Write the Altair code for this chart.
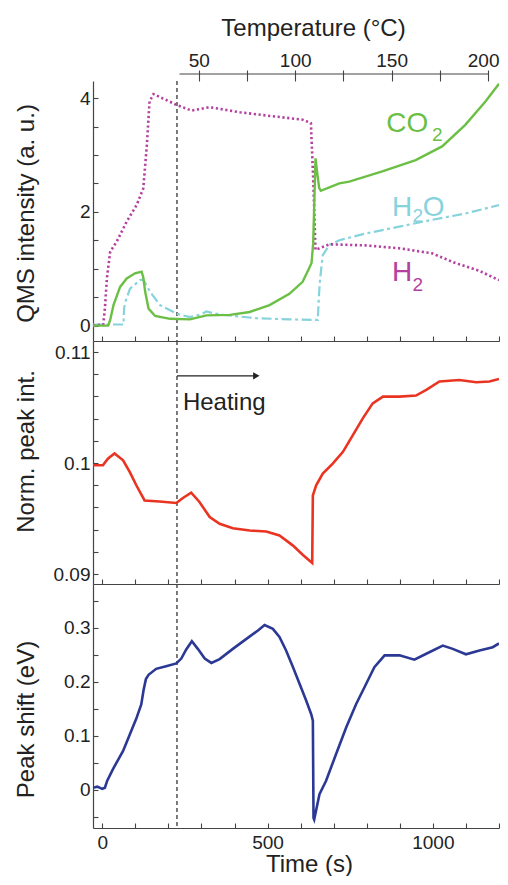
import altair as alt
import pandas as pd

# ---------------- data ----------------
# QMS signals, top panel (time in s, intensity in a.u.)
H2_T = [-28, 3, 8, 14, 24, 44, 74, 104, 124, 135, 143, 155, 225, 270, 325, 416, 516, 606, 631,
        638, 645, 657, 687, 797, 898, 998, 1068, 1138, 1200]
H2_V = [0.0, 0.02, 0.3, 0.83, 1.30, 1.48, 1.83, 2.12, 2.41, 3.18, 3.94, 4.07, 3.88, 3.78, 3.84,
        3.75, 3.68, 3.62, 3.56, 2.59, 1.33, 1.36, 1.43, 1.41, 1.36, 1.27, 1.10, 0.97, 0.80]

CO2_T = [-28, 18, 24, 34, 54, 74, 99, 119, 124, 130, 140, 160, 205, 265, 315, 386, 446, 506, 566,
         606, 625, 633, 638, 642, 645, 650, 656, 661, 717, 747, 847, 948, 1028, 1098, 1159, 1200]
CO2_V = [0.0, 0.0, 0.1, 0.36, 0.68, 0.83, 0.92, 0.95, 0.85, 0.59, 0.30, 0.17, 0.12, 0.11, 0.18,
         0.19, 0.24, 0.36, 0.56, 0.77, 1.0, 1.1, 1.45, 2.3, 2.94, 2.7, 2.42, 2.37, 2.50, 2.53,
         2.71, 2.91, 3.15, 3.53, 3.94, 4.25]

H2O_T = [-28, 64, 66, 69, 84, 114, 124, 145, 175, 225, 265, 300, 315, 335, 365, 466, 566, 652,
         655, 659, 667, 687, 717, 797, 898, 998, 1098, 1200]
H2O_V = [0.02, 0.02, 0.3, 0.40, 0.65, 0.80, 0.81, 0.59, 0.36, 0.21, 0.15, 0.20, 0.25, 0.22, 0.19,
         0.13, 0.11, 0.10, 0.5, 0.83, 1.24, 1.42, 1.50, 1.62, 1.74, 1.86, 1.97, 2.12]

# normalised peak intensity, middle panel
INT_T = [-28, 2, 17, 37, 63, 83, 103, 128, 173, 224, 244, 269, 294, 325, 355, 395, 446, 496, 536,
         577, 607, 635, 637, 647, 667, 697, 728, 758, 788, 818, 849, 899, 949, 980, 1020, 1080,
         1131, 1171, 1200]
INT_V = [0.0998, 0.0998, 0.1004, 0.10086, 0.10025, 0.0992, 0.0980, 0.09663, 0.09654, 0.0964,
         0.09685, 0.09733, 0.09649, 0.09513, 0.09452, 0.09413, 0.09392, 0.09383, 0.09347,
         0.09256, 0.09172, 0.09100, 0.09709, 0.0980, 0.09905, 0.09995, 0.10101, 0.10252,
         0.10403, 0.10538, 0.10599, 0.10599, 0.10608, 0.10659, 0.10735, 0.10749, 0.10728,
         0.10735, 0.10758]

# peak shift, bottom panel
SHIFT_T = [-28, -15, 0, 8, 15, 32, 50, 63, 83, 103, 118, 125, 132, 140, 163, 193, 224, 239, 254,
           271, 289, 310, 330, 355, 395, 435, 471, 491, 516, 536, 556, 577, 597, 617, 632, 637,
           639, 641, 657, 677, 707, 738, 768, 798, 823, 854, 899, 944, 980, 1030, 1060, 1100,
           1141, 1181, 1200]
SHIFT_V = [0.004, 0.006, 0.002, 0.004, 0.017, 0.038, 0.058, 0.072, 0.102, 0.132, 0.158, 0.185,
           0.205, 0.213, 0.224, 0.229, 0.234, 0.243, 0.260, 0.275, 0.261, 0.243, 0.235, 0.242,
           0.261, 0.279, 0.295, 0.305, 0.298, 0.283, 0.258, 0.227, 0.196, 0.165, 0.140, 0.128,
           -0.052, -0.055, -0.008, 0.017, 0.066, 0.116, 0.159, 0.196, 0.227, 0.249, 0.249, 0.241,
           0.252, 0.267, 0.261, 0.251, 0.258, 0.264, 0.271]

HEATING_START = [226]
HEATING_ARROW_T = [226, 466]
HEATING_ARROW_V = 0.10786
HEATING_TEXT = "Heating"
HEATING_TEXT_T = 244
HEATING_TEXT_V = 0.10475

GAS_LABEL_TEXT = ["CO", "2", "H", "2", "O", "H", "2"]
GAS_LABEL_GAS = ["CO2", "CO2", "H2O", "H2O", "H2O", "H2", "H2"]
GAS_LABEL_KIND = ["main", "sub", "main", "sub", "main", "main", "sub"]
GAS_LABEL_T = [859, 997, 876, 938, 969, 876, 938]
GAS_LABEL_V = [3.40, 3.25, 1.93, 1.82, 1.93, 0.79, 0.615]

TIME_DOMAIN = [-28, 1200]
TIME_TICKS = [0, 100, 200, 300, 400, 500, 600, 700, 800, 900, 1000, 1100, 1200]
TIME_LABELS = [0, 500, 1000]

TEMP_AXIS_SPAN = [40, 200]
TEMP_TICKS = [50, 75, 100, 125, 150, 175, 200]
TEMP_LABELS = [50, 100, 150, 200]

QMS_DOMAIN = [-0.27, 4.30]
QMS_TICKS = [0, 0.5, 1, 1.5, 2, 2.5, 3, 3.5, 4]
QMS_LABELS = [0, 2, 4]

INT_DOMAIN = [0.0891, 0.1110]
INT_TICKS = [0.09, 0.092, 0.094, 0.096, 0.098, 0.1, 0.102, 0.104, 0.106, 0.108, 0.11]
INT_LABELS = [0.09, 0.1, 0.11]

SHIFT_DOMAIN = [-0.0705, 0.381]
SHIFT_TICKS = [-0.05, 0, 0.05, 0.1, 0.15, 0.2, 0.25, 0.3, 0.35]
SHIFT_LABELS = [0, 0.1, 0.2, 0.3]

# ---------------- styling ----------------
FONT = "Liberation Sans"
GREEN = "#6cbf45"
CYAN = "#86d3dc"
MAGENTA = "#b4409f"
RED = "#ea3422"
BLUE = "#2b3995"
INK = "#222222"
AXIS_GREY = "#444444"

W = 406
H1, H2, H3 = 260, 243, 244
INWARD = {"expr": "-5"}

x_scale = alt.Scale(domain=TIME_DOMAIN, nice=False, zero=False)


def only(values):
    arr = "[" + ", ".join(repr(v) for v in values) + "]"
    return "indexof(" + arr + ", datum.value) >= 0 ? format(datum.value, '~g') : ''"


def time_axis(show):
    if show:
        return alt.Axis(title="Time (s)", values=TIME_TICKS,
                        labelExpr=only(TIME_LABELS), tickSize=INWARD, labelPadding=10,
                        labelOverlap=False, labelFlush=False, labelBound=False,
                        titleX=216, titleY=48, titleBaseline="bottom")
    return alt.Axis(title=None, values=TIME_TICKS, labels=False, tickSize=INWARD)


def y_axis(title, ticks, labels, title_y):
    return alt.Axis(title=title, values=ticks, labelExpr=only(labels),
                    tickSize=INWARD, labelPadding=8, labelOverlap=False, labelBound=False,
                    labelFlush=False, titleX=-60, titleY=title_y,
                    titleBaseline="alphabetic", titleAngle=270)


def series_df(t, v):
    return pd.DataFrame({"t": t, "v": v})


# one axis object per panel and channel, shared by every layer of that panel
TOP_X = time_axis(False)
MID_X = time_axis(False)
BOT_X = time_axis(True)
TOP_Y = y_axis("QMS intensity (a. u.)", QMS_TICKS, QMS_LABELS, 132)
MID_Y = y_axis("Norm. peak int.", INT_TICKS, INT_LABELS, 110)
BOT_Y = y_axis("Peak shift (eV)", SHIFT_TICKS, SHIFT_LABELS, 135)


def vline(x_axis):
    return alt.Chart(pd.DataFrame({"t": HEATING_START})).mark_rule(
        color=AXIS_GREY, strokeDash=[4, 3], strokeWidth=1.4
    ).encode(x=alt.X("t:Q", scale=x_scale, axis=x_axis))


# ---------------- top panel ----------------
qms_y = alt.Scale(domain=QMS_DOMAIN, nice=False, zero=False)


def qms_line(t, v, color, dash, width):
    kw = dict(color=color, strokeWidth=width, clip=True)
    if dash:
        kw["strokeDash"] = dash
    return alt.Chart(series_df(t, v)).mark_line(**kw).encode(
        x=alt.X("t:Q", scale=x_scale, axis=TOP_X),
        y=alt.Y("v:Q", scale=qms_y, axis=TOP_Y),
    )


labels_df = pd.DataFrame({"text": GAS_LABEL_TEXT, "gas": GAS_LABEL_GAS,
                          "kind": GAS_LABEL_KIND, "t": GAS_LABEL_T, "v": GAS_LABEL_V})
gas_labels = alt.Chart(labels_df).mark_text(
    align="left", baseline="alphabetic", font=FONT
).encode(
    x=alt.X("t:Q", scale=x_scale, axis=TOP_X),
    y=alt.Y("v:Q", scale=qms_y, axis=TOP_Y),
    text="text:N",
    color=alt.Color("gas:N", scale=alt.Scale(domain=["CO2", "H2O", "H2"],
                                             range=[GREEN, CYAN, MAGENTA]), legend=None),
    size=alt.Size("kind:N", scale=alt.Scale(domain=["main", "sub"], range=[28, 19]),
                  legend=None),
)

top_time = alt.layer(
    vline(TOP_X),
    qms_line(H2O_T, H2O_V, CYAN, [10, 3.5, 3, 3.5], 2.2),
    qms_line(H2_T, H2_V, MAGENTA, [2.2, 2.6], 2.6),
    qms_line(CO2_T, CO2_V, GREEN, None, 2.4),
    gas_labels,
)

temp_df = pd.DataFrame({"lo": [TEMP_AXIS_SPAN[0]], "hi": [TEMP_AXIS_SPAN[1]]})
temp_axis_layer = alt.Chart(temp_df).mark_rule(color=AXIS_GREY, strokeWidth=1.2).encode(
    x=alt.X("lo:Q",
            scale=alt.Scale(domain=TEMP_AXIS_SPAN, range=[86.5, 395], nice=False, zero=False),
            axis=alt.Axis(orient="top", title="Temperature (°C)", values=TEMP_TICKS,
                          labelExpr=only(TEMP_LABELS), domain=False,
                          tickSize=11, labelPadding=0, labelOverlap=False, labelFlush=True,
                          labelFlushOffset=11, titleX=220, titleY=-46,
                          titleBaseline="alphabetic")),
    x2="hi:Q",
    y=alt.value(-7),
)

top = alt.layer(top_time, temp_axis_layer).resolve_scale(x="independent").properties(
    width=W, height=H1)

# ---------------- middle panel ----------------
int_y = alt.Scale(domain=INT_DOMAIN, nice=False, zero=False)
mid_line = alt.Chart(series_df(INT_T, INT_V)).mark_line(
    color=RED, strokeWidth=2.6, clip=True
).encode(
    x=alt.X("t:Q", scale=x_scale, axis=MID_X),
    y=alt.Y("v:Q", scale=int_y, axis=MID_Y),
)
arrow_df = pd.DataFrame({"t0": [HEATING_ARROW_T[0]], "t1": [HEATING_ARROW_T[1]],
                         "v": [HEATING_ARROW_V]})
arrow_line = alt.Chart(arrow_df).mark_rule(color=INK, strokeWidth=1.2).encode(
    x=alt.X("t0:Q", scale=x_scale, axis=MID_X), x2="t1:Q",
    y=alt.Y("v:Q", scale=int_y, axis=MID_Y))
arrow_head = alt.Chart(arrow_df).mark_point(
    shape="triangle-right", filled=True, color=INK, size=55, opacity=1
).encode(x=alt.X("t1:Q", scale=x_scale, axis=MID_X),
         y=alt.Y("v:Q", scale=int_y, axis=MID_Y))
heat_text = alt.Chart(pd.DataFrame({"t": [HEATING_TEXT_T], "v": [HEATING_TEXT_V],
                                    "s": [HEATING_TEXT]})).mark_text(
    align="left", baseline="alphabetic", font=FONT, fontSize=24, color=INK
).encode(x=alt.X("t:Q", scale=x_scale, axis=MID_X),
         y=alt.Y("v:Q", scale=int_y, axis=MID_Y), text="s:N")

middle = alt.layer(vline(MID_X), mid_line, arrow_line, arrow_head, heat_text).properties(
    width=W, height=H2)

# ---------------- bottom panel ----------------
shift_y = alt.Scale(domain=SHIFT_DOMAIN, nice=False, zero=False)
bot_line = alt.Chart(series_df(SHIFT_T, SHIFT_V)).mark_line(
    color=BLUE, strokeWidth=2.6, clip=True
).encode(
    x=alt.X("t:Q", scale=x_scale, axis=BOT_X),
    y=alt.Y("v:Q", scale=shift_y, axis=BOT_Y),
)
bottom = alt.layer(vline(BOT_X), bot_line).properties(width=W, height=H3)

chart = alt.vconcat(top, middle, bottom, spacing=0, bounds="flush").resolve_scale(
    x="independent", y="independent"
).properties(
    padding={"left": 5, "top": 8, "right": 0, "bottom": 0}
).configure_view(stroke=None).configure_axis(
    labelFont=FONT, titleFont=FONT, labelFontSize=19, titleFontSize=24,
    labelColor=INK, titleColor=INK, titleFontWeight="normal", labelOverlap=False,
    domainColor=AXIS_GREY, tickColor=AXIS_GREY, domainWidth=1.2, tickWidth=1.1, grid=False,
)

chart.save("out.html", embed_options={"renderer": "svg", "actions": False})
